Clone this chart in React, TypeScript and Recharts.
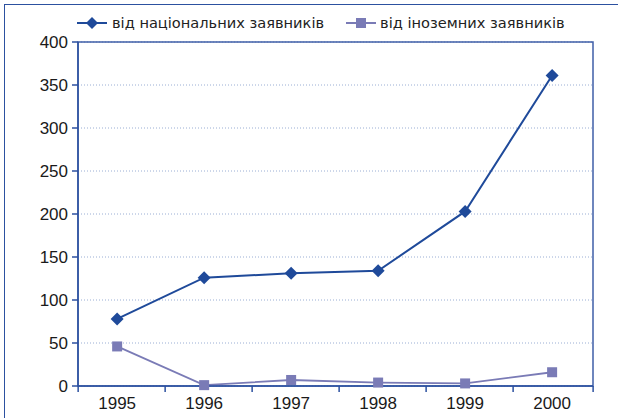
import React from 'react';
import { LineChart, Line, XAxis, YAxis, CartesianGrid, Legend, ReferenceArea } from 'recharts';

const years = [1995, 1996, 1997, 1998, 1999, 2000];
const national = [78, 126, 131, 134, 203, 361];
const foreign = [46, 1, 7, 4, 3, 16];
const yTicks = [0, 50, 100, 150, 200, 250, 300, 350, 400];

const NAT_NAME = 'від національних заявників';
const FOR_NAME = 'від іноземних заявників';

const NAT_COLOR = '#1f4a9a';
const FOR_COLOR = '#7a7bb6';
const AXIS_COLOR = '#2c51a0';

const data = years.map((y, i) => ({ year: y, nat: national[i], for: foreign[i] }));

const Diamond = (props: any) => {
  const { cx, cy } = props;
  if (cx == null || cy == null) return null;
  return <path d={`M${cx},${cy - 6.5} L${cx + 6.5},${cy} L${cx},${cy + 6.5} L${cx - 6.5},${cy} Z`} fill={NAT_COLOR} />;
};

const Square = (props: any) => {
  const { cx, cy } = props;
  if (cx == null || cy == null) return null;
  return <rect x={cx - 5} y={cy - 5} width={10} height={10} fill={FOR_COLOR} />;
};

const XTick = (props: any) => {
  const { x, y, payload, index, visibleTicksCount } = props;
  const last = index === visibleTicksCount - 1;
  return (
    <g>
      <line x1={x - 39} x2={x - 39} y1={y} y2={y + 6} stroke={AXIS_COLOR} strokeWidth={1.5} />
      {last && <line x1={x + 41} x2={x + 41} y1={y} y2={y + 6} stroke={AXIS_COLOR} strokeWidth={1.5} />}
      <text x={x} y={y + 23} textAnchor="middle" fontSize={17} fill="#1a1a1a" fontFamily="Liberation Sans, Arial, sans-serif">
        {payload.value}
      </text>
    </g>
  );
};

const LegendContent = () => (
  <div style={{ display: 'flex', alignItems: 'center', fontFamily: 'DejaVu Sans, sans-serif', fontSize: 14.6, color: '#222', whiteSpace: 'nowrap' }}>
    <svg width={30} height={14} style={{ marginRight: 5 }}>
      <line x1={0} x2={30} y1={7} y2={7} stroke={NAT_COLOR} strokeWidth={2} />
      <path d="M15,1 L21,7 L15,13 L9,7 Z" fill={NAT_COLOR} />
    </svg>
    <span>{NAT_NAME}</span>
    <svg width={30} height={14} style={{ marginLeft: 22, marginRight: 4 }}>
      <line x1={0} x2={30} y1={7} y2={7} stroke={FOR_COLOR} strokeWidth={2} />
      <rect x={10} y={2} width={10} height={10} fill={FOR_COLOR} />
    </svg>
    <span>{FOR_NAME}</span>
  </div>
);

export default function App() {
  return (
    <div style={{ position: 'absolute', left: 0, top: 0, width: 618, height: 418, background: '#fff' }}>
      <div style={{ position: 'absolute', left: 4, top: 4, right: 0, bottom: 0, borderLeft: `1px solid ${AXIS_COLOR}`, borderTop: `1px solid ${AXIS_COLOR}` }} />
      <LineChart width={618} height={418} data={data} margin={{ top: 42, right: 25, bottom: 0, left: 0 }}>
        <CartesianGrid horizontal vertical={false} stroke="#9aaed4" strokeDasharray="1 2" />
        <XAxis
          dataKey="year"
          type="number"
          domain={[1994.55, 2000.47]}
          ticks={years}
          height={32}
          tickSize={0}
          tickMargin={0}
          tickLine={false}
          axisLine={{ stroke: AXIS_COLOR, strokeWidth: 1.5 }}
          tick={<XTick />}
          interval={0}
        />
        <YAxis
          domain={[0, 400]}
          ticks={yTicks}
          width={78}
          tickSize={6}
          tickMargin={4}
          interval={0}
          axisLine={{ stroke: AXIS_COLOR, strokeWidth: 1.5 }}
          tickLine={{ stroke: AXIS_COLOR, strokeWidth: 1.5 }}
          tick={{ fontSize: 17, fill: '#1a1a1a', fontFamily: 'Liberation Sans, Arial, sans-serif' }}
        />
        <ReferenceArea y1={0} y2={400} fill="none" stroke="#3f5fa8" strokeWidth={1.5} ifOverflow="visible" />
        <Legend
          verticalAlign="middle"
          align="center"
          layout="horizontal"
          content={<LegendContent />}
          wrapperStyle={{ top: 14, left: 77, width: 'auto' }}
        />
        <Line
          dataKey="nat"
          name={NAT_NAME}
          stroke={NAT_COLOR}
          strokeWidth={2}
          dot={<Diamond />}
          activeDot={false}
          isAnimationActive={false}
        />
        <Line
          dataKey="for"
          name={FOR_NAME}
          stroke={FOR_COLOR}
          strokeWidth={1.8}
          dot={<Square />}
          activeDot={false}
          isAnimationActive={false}
        />
      </LineChart>
    </div>
  );
}
